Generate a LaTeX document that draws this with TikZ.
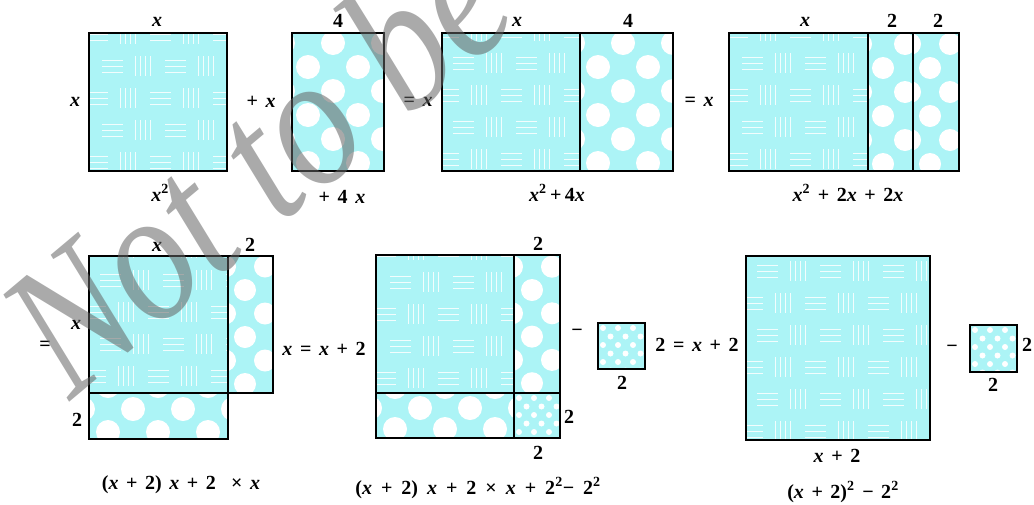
\documentclass[tikz,border=0pt]{standalone}
\usepackage{fontspec}
\setmainfont{Liberation Serif}
\definecolor{cy}{RGB}{172,244,246}
\definecolor{wmc}{RGB}{100,100,100}
\newcommand\X{\textit{x}}
\newcommand\widesp{\spaceskip=0.38em\relax}
\newcommand\weavefill[6]{%
  \begin{scope}
    \clip (#1,#2) rectangle (#3,#4);
    \fill[cy] (#1,#2) rectangle (#3,#4);
    \foreach \k in {-2,...,6} {
      \pgfmathsetmacro\yc{#6+32*\k}
      \pgfmathsetmacro\sh{-15*mod(\k+20,2)}
      \foreach \i in {-2,...,3} {
        \pgfmathsetmacro\gx{#5+\sh+63*\i}
        \draw[wl] (\gx,\yc-6) -- ++(21,0) (\gx,\yc) -- ++(21,0) (\gx,\yc+6) -- ++(21,0);
        \foreach \v in {0,5,10,15} \draw[wl] (\gx+33+\v,\yc-10) -- ++(0,20);
      }
    }
  \end{scope}}
\newcommand\spotfill[9]{%
  \begin{scope}
    \clip (#1,#2) rectangle (#3,#4);
    \fill[cy] (#1,#2) rectangle (#3,#4);
    \foreach \i in {-8,...,8} \foreach \j in {-8,...,8} {
      \pgfmathtruncatemacro\pp{mod(\i+\j+40,2)}
      \ifnum\pp=0 \fill[white] ({#5+#7*(\i)},{#6+#8*(\j)}) circle[radius=#9]; \fi
    }
  \end{scope}}
\newcommand\checkfill[4]{\spotfill{#1}{#2}{#3}{#4}{#1+5}{#2+5}{7.5}{8.5}{3}}
\begin{document}
\begin{tikzpicture}[x=1pt,y=-1pt,
  wl/.style={white,line width=1pt,opacity=0.85},
  bd/.style={black,line width=1.8pt},
  lab/.style={inner sep=0pt,font=\fontsize{20}{20}\selectfont\bfseries,execute at begin node=\widesp}]
\useasboundingbox (0,0) rectangle (1034,504);
% ---- row 1 fills
\weavefill{89}{33}{227}{171}{102}{66}
\spotfill{292}{33}{384}{171}{308}{67}{25}{24}{12}
\weavefill{442}{33}{580}{171}{453}{63}
\spotfill{580}{33}{673}{171}{598}{67}{25}{24}{12}
\weavefill{729}{33}{868}{171}{742}{63}
\spotfill{868}{33}{913}{171}{883}{68}{22}{24}{11}
\spotfill{913}{33}{959}{171}{930}{68}{20}{24}{11}
% ---- row 2 fills
\weavefill{89}{256}{228}{393}{100}{280}
\spotfill{228}{256}{273}{393}{245}{290}{20}{23.5}{11}
\spotfill{89}{393}{228}{439}{133}{409}{25}{23}{12}
\weavefill{376}{255}{514}{393}{390}{282}
\spotfill{514}{255}{560}{393}{532}{290}{20}{23.3}{11}
\spotfill{376}{393}{514}{438}{420}{408}{25}{21}{12}
\checkfill{514}{393}{560}{438}
\checkfill{598}{323}{645}{369}
\weavefill{746}{256}{930}{440}{757}{271}
\checkfill{970}{325}{1017}{372}
% ---- borders
\draw[bd] (89,33) rectangle (227,171);
\draw[bd] (292,33) rectangle (384,171);
\draw[bd] (442,33) rectangle (673,171); \draw[bd] (580,33) -- (580,171);
\draw[bd] (729,33) rectangle (959,171); \draw[bd] (868,33) -- (868,171) (913,33) -- (913,171);
\draw[bd] (89,256) rectangle (228,393); \draw[bd] (228,256) rectangle (273,393); \draw[bd] (89,393) rectangle (228,439);
\draw[bd] (376,255) rectangle (560,438); \draw[bd] (514,255) -- (514,438) (376,393) -- (560,393);
\draw[bd] (598,323) rectangle (645,369);
\draw[bd] (746,256) rectangle (930,440);
\draw[bd] (970,325) rectangle (1017,372);
% ---- labels row 1
\node[lab] (l1) at (157,22) {\X};
\node[lab] (l2) at (75,102) {\X};
\node[lab] (l3) at (160,193) {\X\textsuperscript{2}};
\node[lab] (l4) at (338,21) {4};
\node[lab] (l5) at (261,102) {+ \X};
\node[lab] (l6) at (342,197) {+ 4 \X};
\node[lab] (l7) at (418,102) {= \X};
\node[lab] (l8) at (517,22) {\X};
\node[lab] (l9) at (628,21) {4};
\node[lab] (l10) at (557,193) {\X\textsuperscript{2}\,+\,4\X};
\node[lab] (l11) at (699,102) {= \X};
\node[lab] (l12) at (805,22) {\X};
\node[lab] (l13) at (892,21) {2};
\node[lab] (l14) at (938,21) {2};
\node[lab] (l15) at (848,193) {\X\textsuperscript{2} + 2\X{} + 2\X};
% ---- labels row 2
\node[lab] (m1) at (45,346) {=};
\node[lab] (m2) at (157,247) {\X};
\node[lab] (m3) at (250,245) {2};
\node[lab] (m4) at (76,325) {\X};
\node[lab] (m5) at (77,420) {2};
\node[lab] (m6) at (324,349) {\X{} = \X{} + 2};
\node[lab] (m7) at (181,485) {(\X{} + 2) \X{} + 2 \ × \X};
\node[lab] (m8) at (538,244) {2};
\node[lab] (m9) at (569,417) {2};
\node[lab] (m10) at (538,453) {2};
\node[lab] (m11) at (577,333) {−};
\node[lab] (m12) at (697,345) {2 = \X{} + 2};
\node[lab] (m13) at (622,383) {2};
\node[lab,execute at begin node={\spaceskip=0.45em\relax}] (m14) at (478,488) {(\X{} + 2) \X{} + 2 × \X{} + 2\textsuperscript{2}− 2\textsuperscript{2}};
\node[lab] (n1) at (837,456) {\X{} + 2};
\node[lab] (n2) at (843,492) {(\X{} + 2)\textsuperscript{2} − 2\textsuperscript{2}};
\node[lab] (n3) at (952,349) {−};
\node[lab] (n4) at (1027,345) {2};
\node[lab] (n5) at (993,385) {2};
% ---- watermark
\node[font=\fontsize{190}{190}\selectfont\itshape, text=wmc, text opacity=0.55, anchor=base west, rotate=40, xscale=0.85, inner sep=0pt] (wm) at (70,402) {Not to be};
\end{tikzpicture}
\end{document}
